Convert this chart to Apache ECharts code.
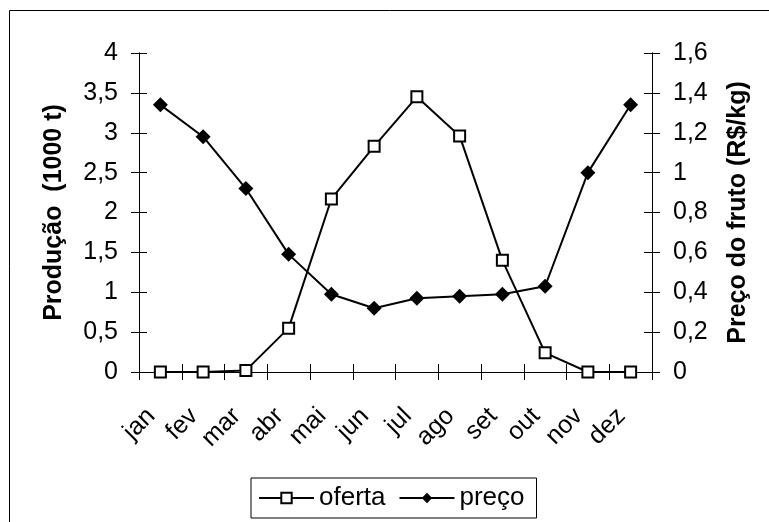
<!DOCTYPE html>
<html><head><meta charset="utf-8">
<script src="https://cdn.jsdelivr.net/npm/echarts@6/dist/echarts.min.js"></script>
<style>html,body{margin:0;padding:0;background:#fff}#c{width:769px;height:522px}</style>
</head><body><div id="c"></div>
<script>
const months = ['jan','fev','mar','abr','mai','jun','jul','ago','set','out','nov','dez'];
const oferta = [0, 0, 0.02, 0.55, 2.17, 2.83, 3.45, 2.96, 1.40, 0.24, 0, 0];
const preco = [1.34, 1.18, 0.92, 0.59, 0.39, 0.32, 0.37, 0.38, 0.39, 0.43, 1.00, 1.34];
const leftTicks = {min: 0, max: 4, interval: 0.5};
const rightTicks = {min: 0, max: 1.6, interval: 0.2};

const FONT = 'Liberation Sans, Arial, sans-serif';
const fmt = v => String(Math.round(v * 10) / 10).replace('.', ',');
const chart = echarts.init(document.getElementById('c'), null, {renderer: 'canvas'});
const lineStyle = {color: '#000', width: 1};
const baseY = (pos, t) => ({
  type: 'value', position: pos, min: t.min, max: t.max, interval: t.interval,
  splitLine: {show: false},
  axisLine: {show: true, onZero: false, lineStyle},
  axisTick: {show: true, inside: false, length: 8, lineStyle},
  axisLabel: {show: true, margin: 21, color: '#000', fontFamily: FONT, fontSize: 25, formatter: fmt}
});
const titleStyle = {fontFamily: FONT, fontWeight: 'bold', fontSize: 25, color: '#000'};
const yL = baseY('left', leftTicks);
yL.name = 'Produção  (1000 t)';
yL.nameLocation = 'middle'; yL.nameGap = 72;
yL.nameTextStyle = titleStyle;
const yR = baseY('right', rightTicks);
yR.name = 'Preço do fruto (R$/kg)';
yR.nameLocation = 'middle'; yR.nameGap = 74; yR.nameRotate = 90;
yR.nameTextStyle = titleStyle;
const yLi = Object.assign(baseY('left', leftTicks), {axisLabel: {show: false}, axisTick: {show: true, inside: true, length: 8, lineStyle}});
const yRi = Object.assign(baseY('right', rightTicks), {axisLabel: {show: false}, axisTick: {show: true, inside: true, length: 8, lineStyle}});

chart.setOption({
  animation: false,
  backgroundColor: '#fff',
  grid: {left: 139, right: 117, top: 53, bottom: 150, containLabel: false},
  graphic: [{type: 'rect', shape: {x: 9.5, y: 10.5, width: 800, height: 600}, style: {fill: 'none', stroke: '#000', lineWidth: 1}, z: -1}],
  legend: {
    left: 251, top: 478, padding: [7, 12, 7, 7], itemGap: 13,
    itemWidth: 55, itemHeight: 13,
    borderColor: '#000', borderWidth: 1,
    textStyle: {fontFamily: FONT, fontSize: 26, color: '#000'},
    data: ['oferta', 'preço']
  },
  xAxis: [{
    type: 'category', data: months, boundaryGap: true,
    axisLine: {show: true, onZero: false, lineStyle},
    axisTick: {show: true, inside: false, length: 8, lineStyle},
    axisLabel: {rotate: 45, margin: 31, padding: [0, 13, 0, 0], color: '#000', fontFamily: FONT, fontSize: 25, interval: 0}
  }, {
    type: 'category', data: months, boundaryGap: true, position: 'bottom',
    axisLine: {show: false},
    axisTick: {show: true, inside: true, length: 8, lineStyle},
    axisLabel: {show: false}
  }],
  yAxis: [yL, yR, yLi, yRi],
  series: [{
    name: 'oferta', type: 'line', data: oferta, yAxisIndex: 0, xAxisIndex: 0,
    symbol: 'rect', symbolSize: 11, showAllSymbol: true,
    lineStyle: {color: '#000', width: 2},
    itemStyle: {color: '#fff', borderColor: '#000', borderWidth: 2}
  }, {
    name: 'preço', type: 'line', data: preco, yAxisIndex: 1, xAxisIndex: 0,
    symbol: 'diamond', symbolSize: 15, showAllSymbol: true,
    lineStyle: {color: '#000', width: 2},
    itemStyle: {color: '#000', borderColor: '#000', borderWidth: 0}
  }]
});
</script></body></html>
